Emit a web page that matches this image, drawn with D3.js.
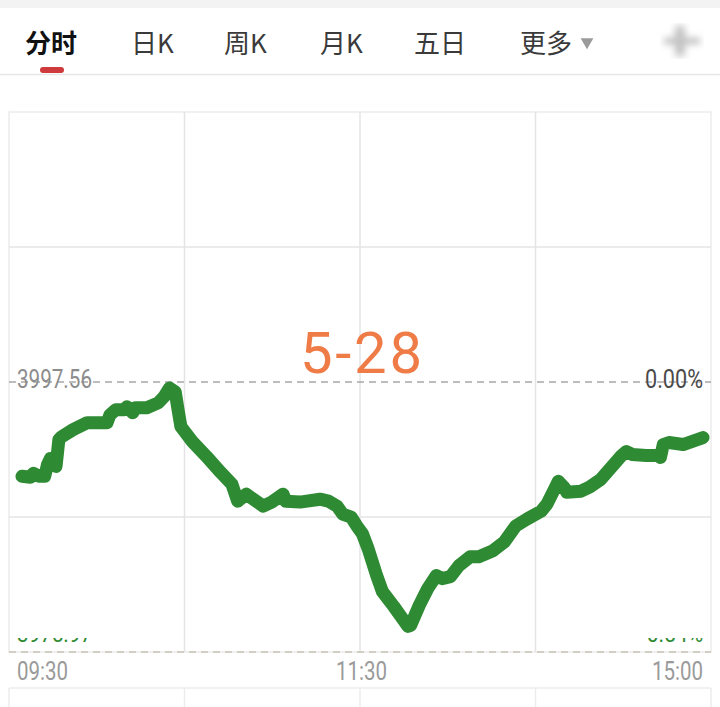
<!DOCTYPE html>
<html><head><meta charset="utf-8">
<script src="https://cdn.jsdelivr.net/npm/d3@7"></script>
<style>
html,body{margin:0;padding:0;background:#fff;}
svg{display:block;}
</style></head>
<body>
<div id="chart"></div>
<script>
// ---- data ----
const tabs = ["分时", "日K", "周K", "月K", "五日", "更多"];
const activeTab = "分时";
const prevClose = 3997.56;
const rangePct = 0.54;              // ± range of the price axis, percent
const dateLabel = "5-28";
const xTickMinutes = [0, 120, 240];
const xTickLabels = ["09:30", "11:30", "15:00"];
// trading minutes since 09:30 (lunch break removed)
const minutes = [0,3,4,6,8,9,10,12,13,14,
  18,23,30,31,33,36,37,39,40,44,
  48,50,52,54,55,56,60,65,70,73,
  74,76,79,85,88,92,93,98,105,108,
  111,113,116,118,120,122,125,127,131,134,
  136,137,140,143,146,148,151,154,158,161,
  166,170,174,178,183,185,188,189,191,192,
  197,200,204,207,211,213,215,220,224,225,
  226,228,233,236,240];
const prices = [3990.02,3989.94,3990.26,3990.02,3990.02,3990.97,3991.45,3990.81,3992.96,3993.19,
  3993.75,3994.31,3994.31,3994.94,3995.34,3995.34,3995.58,3995.10,3995.50,3995.50,
  3995.89,3996.37,3997.08,3996.77,3995.34,3993.99,3992.80,3991.61,3990.34,3989.62,
  3989.38,3988.03,3988.59,3987.64,3987.96,3988.59,3988.03,3987.96,3988.19,3988.03,
  3987.64,3987.00,3986.76,3986.05,3985.42,3984.22,3982.08,3980.81,3979.62,3978.67,
  3978.03,3978.11,3979.70,3981.05,3982.08,3981.84,3982.00,3982.88,3983.59,3983.59,
  3984.07,3984.78,3986.05,3986.61,3987.24,3987.80,3989.15,3989.62,3989.15,3988.75,
  3988.83,3989.15,3989.78,3990.57,3991.61,3992.00,3991.77,3991.69,3991.69,3991.53,
  3992.56,3992.72,3992.56,3992.80,3993.12];

// ---- layout ----
const W = 720, H = 707;
const box = {left: 9, right: 711, top: 112, bottom: 652};
const svg = d3.select("#chart").append("svg").attr("width", W).attr("height", H);

const d = prevClose * rangePct / 100;
const yMin = prevClose - d, yMax = prevClose + d;
const y = d3.scaleLinear().domain([yMin, yMax]).range([box.bottom, box.top]);
const x = d3.scaleLinear().domain([0, 240]).range([22, 703]);
const xGrid = d3.scaleLinear().domain([0, 4]).range([box.left, box.right]);

// top grey band
svg.append("rect").attr("x", 0).attr("y", 0).attr("width", W).attr("height", 8).attr("fill", "#f3f3f3");

// tabs
const tabX = [25, 131, 224, 320, 414, 520];
const tabG = svg.append("g");
tabs.forEach((t, i) => {
  tabG.append("text").attr("x", tabX[i]).attr("y", 53)
    .attr("font-family", "'Noto Sans CJK SC', Roboto, sans-serif")
    .attr("font-size", 26)
    .attr("font-weight", t === activeTab ? 700 : 400)
    .attr("fill", t === activeTab ? "#111" : "#3a3a3a")
    .text(t);
});
// dropdown triangle
svg.append("path").attr("d", d3.symbol(d3.symbolTriangle, 70)()).attr("fill", "#9a9a9a")
  .attr("transform", "translate(587,42) rotate(180)");
// active indicator
svg.append("rect").attr("x", 40).attr("y", 67).attr("width", 24).attr("height", 6).attr("rx", 3).attr("fill", "#cf3a3c");
// separator
svg.append("line").attr("x1", 0).attr("x2", W).attr("y1", 74.5).attr("y2", 74.5).attr("stroke", "#e6e6e6").attr("stroke-width", 1.5);
// blurred icon at the right
const defs = svg.append("defs");
defs.append("filter").attr("id", "blur").append("feGaussianBlur").attr("stdDeviation", 3.5);
const icon = svg.append("g").attr("filter", "url(#blur)").attr("opacity", 0.5);
icon.append("rect").attr("x", 664).attr("y", 38).attr("width", 36).attr("height", 6).attr("fill", "#777");
icon.append("rect").attr("x", 675).attr("y", 26).attr("width", 10).attr("height", 30).attr("fill", "#888");

// chart frame and grid
const gridColor = "#e4e4e4";
svg.append("rect").attr("x", box.left).attr("y", box.top).attr("width", box.right - box.left)
  .attr("height", box.bottom - box.top).attr("fill", "none").attr("stroke", "#ececec").attr("stroke-width", 1.5);
[1, 2, 3].forEach(i => {
  svg.append("line").attr("x1", xGrid(i)).attr("x2", xGrid(i)).attr("y1", box.top).attr("y2", box.bottom)
    .attr("stroke", gridColor).attr("stroke-width", 1.5);
});
[yMax - d / 2, yMin + d / 2].forEach(v => {
  svg.append("line").attr("x1", box.left).attr("x2", box.right).attr("y1", y(v)).attr("y2", y(v))
    .attr("stroke", gridColor).attr("stroke-width", 1.5);
});
// previous close dashed line
svg.append("line").attr("x1", box.left).attr("x2", box.right).attr("y1", y(prevClose)).attr("y2", y(prevClose))
  .attr("stroke", "#a8a8a8").attr("stroke-width", 1.5).attr("stroke-dasharray", "7,5");
// bottom dashed line
svg.append("line").attr("x1", box.left).attr("x2", box.right).attr("y1", box.bottom).attr("y2", box.bottom)
  .attr("stroke", "#c9c2b6").attr("stroke-width", 1.5).attr("stroke-dasharray", "7,5");

// second panel (below axis labels)
svg.append("line").attr("x1", box.left).attr("x2", box.right).attr("y1", 688).attr("y2", 688)
  .attr("stroke", "#ececec").attr("stroke-width", 1.5);
[0, 1, 2, 3, 4].forEach(i => {
  svg.append("line").attr("x1", xGrid(i)).attr("x2", xGrid(i)).attr("y1", 688).attr("y2", H)
    .attr("stroke", "#ececec").attr("stroke-width", 1.5);
});

// date label
svg.append("text").attr("x", 361).attr("y", 373).attr("text-anchor", "middle")
  .attr("font-family", "Roboto, sans-serif").attr("font-size", 58).attr("fill", "#ef7b47")
  .attr("textLength", 122).attr("lengthAdjust", "spacing")
  .text(dateLabel);

// price line
const pts = minutes.map((m, i) => [m, prices[i]]);
const line = d3.line().x(p => x(p[0])).y(p => y(p[1]));
svg.append("path").datum(pts).attr("d", line).attr("fill", "none")
  .attr("stroke", "#2e8b33").attr("stroke-width", 13)
  .attr("stroke-linejoin", "round").attr("stroke-linecap", "round");

// y labels
const lblFont = "Roboto, 'Noto Sans', sans-serif";
svg.append("text").attr("x", 17).attr("y", 388).attr("font-family", lblFont).attr("font-size", 25)
  .attr("fill", "#8c8c8c").attr("textLength", 75).attr("lengthAdjust", "spacingAndGlyphs")
  .text(prevClose.toFixed(2));
svg.append("text").attr("x", 703).attr("y", 388).attr("text-anchor", "end").attr("font-family", lblFont).attr("font-size", 25)
  .attr("fill", "#4a4a4a").attr("textLength", 58).attr("lengthAdjust", "spacingAndGlyphs")
  .text("0.00%");

// bottom labels (mostly hidden in the reference)
defs.append("clipPath").attr("id", "lowclip").append("rect").attr("x", 0).attr("y", 638).attr("width", W).attr("height", 10);
const low = svg.append("g").attr("clip-path", "url(#lowclip)");
low.append("text").attr("x", 17).attr("y", 642).attr("font-family", lblFont).attr("font-size", 23)
  .attr("fill", "#2e8b33").attr("textLength", 75).attr("lengthAdjust", "spacingAndGlyphs")
  .text(yMin.toFixed(2));
low.append("text").attr("x", 703).attr("y", 642).attr("text-anchor", "end").attr("font-family", lblFont).attr("font-size", 23)
  .attr("fill", "#2e8b33").attr("textLength", 62).attr("lengthAdjust", "spacingAndGlyphs")
  .text("-" + rangePct.toFixed(2) + "%");

// x axis labels
const anchors = ["start", "middle", "end"];
const xPos = [17, 360, 703];
xTickMinutes.forEach((m, i) => {
  svg.append("text").attr("x", i === 1 ? x(m) - 1 : xPos[i]).attr("y", 680)
    .attr("text-anchor", anchors[i]).attr("font-family", lblFont).attr("font-size", 25)
    .attr("fill", "#9a9a9a").attr("textLength", 51).attr("lengthAdjust", "spacingAndGlyphs")
    .text(xTickLabels[i]);
});
</script>
</body></html>
